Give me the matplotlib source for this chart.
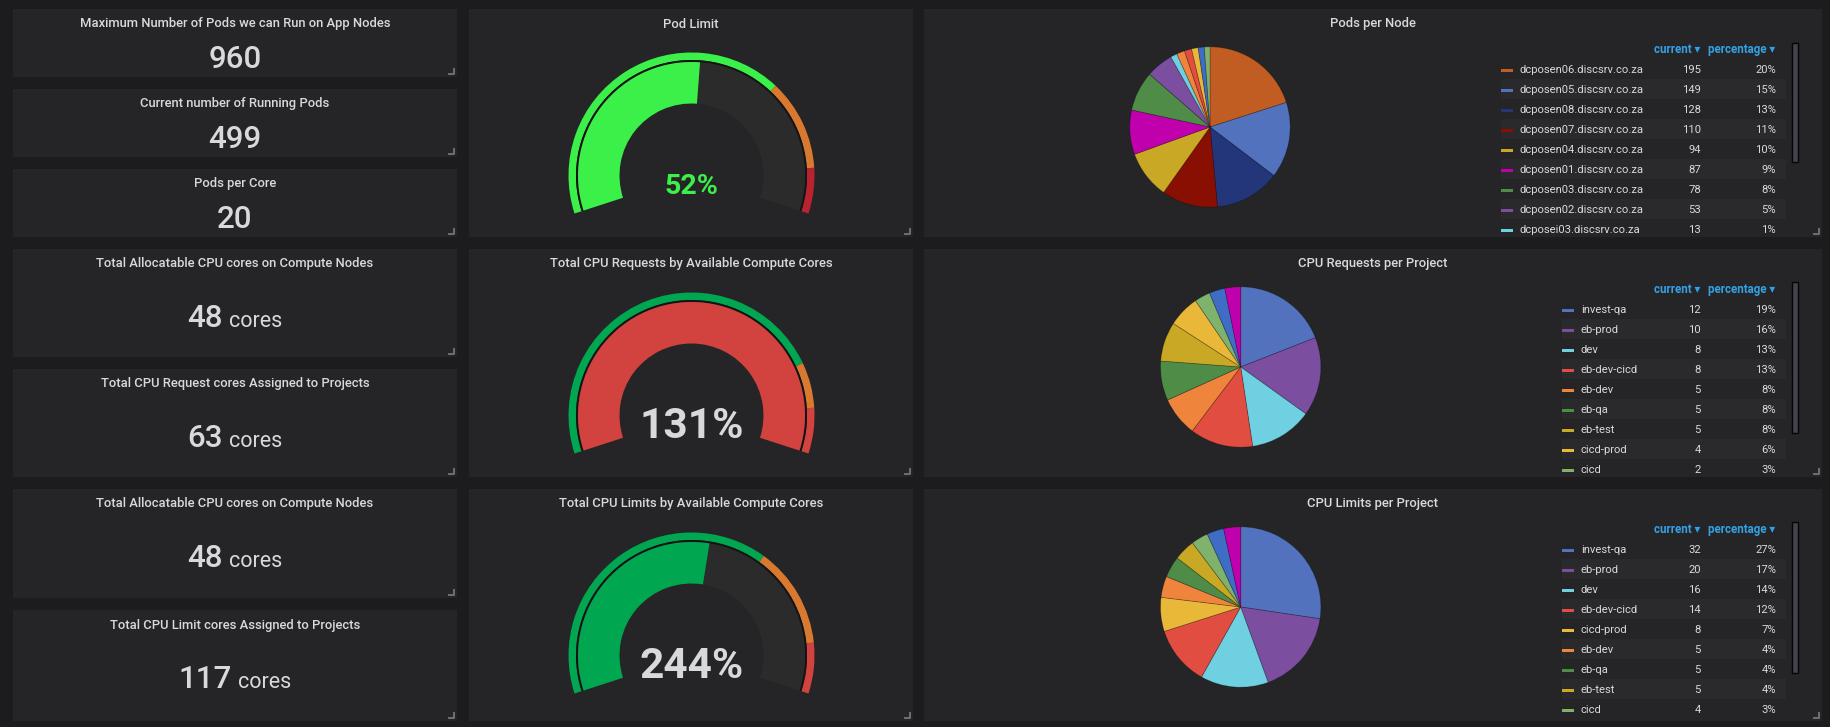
import matplotlib
matplotlib.use('Agg')
import matplotlib.pyplot as plt
from matplotlib.patches import Rectangle, Wedge

plt.rcParams['font.family'] = ['Roboto', 'DejaVu Sans']

# ---- single stat panels
stat_titles = ['Maximum Number of Pods we can Run on App Nodes',
               'Current number of Running Pods',
               'Pods per Core',
               'Total Allocatable CPU cores on Compute Nodes',
               'Total CPU Request cores Assigned to Projects',
               'Total Allocatable CPU cores on Compute Nodes',
               'Total CPU Limit cores Assigned to Projects']
stat_values = [960, 499, 20, 48, 63, 48, 117]
stat_units = ['', '', '', 'cores', 'cores', 'cores', 'cores']

# ---- gauges (percent)
gauge_titles = ['Pod Limit',
                'Total CPU Requests by Available Compute Cores',
                'Total CPU Limits by Available Compute Cores']
gauge_values = [52, 131, 244]
gauge_max = [100, 100, 450]
gauge_warn = [70, 80, 300]
gauge_crit = [90, 90, 400]

# ---- pies
pie_titles = ['Pods per Node', 'CPU Requests per Project', 'CPU Limits per Project']
node_names = ['dcposen06.discsrv.co.za', 'dcposen05.discsrv.co.za', 'dcposen08.discsrv.co.za',
              'dcposen07.discsrv.co.za', 'dcposen04.discsrv.co.za', 'dcposen01.discsrv.co.za',
              'dcposen03.discsrv.co.za', 'dcposen02.discsrv.co.za', 'dcposei03.discsrv.co.za',
              'dcposei01.discsrv.co.za', 'dcposei02.discsrv.co.za', 'dcposem01.discsrv.co.za',
              'dcposem02.discsrv.co.za', 'dcposem03.discsrv.co.za']
node_pods = [195, 149, 128, 110, 94, 87, 78, 53, 13, 16, 14, 13, 12, 11]
node_colors = ['#c15c22', '#5272be', '#24367a', '#890f02', '#c9a825', '#c000ad', '#4e8c48',
               '#7b4ea0', '#6ed0e0', '#ef843c', '#e24d42', '#eab839', '#3f6dc5', '#7eb26d']

req_projects = ['invest-qa', 'eb-prod', 'dev', 'eb-dev-cicd', 'eb-dev', 'eb-qa', 'eb-test',
                'cicd-prod', 'cicd', 'eb-uat', 'monitoring']
req_cores = [12, 10, 8, 8, 5, 5, 5, 4, 2, 2, 2]
req_colors = ['#5272be', '#7b4ea0', '#6ed0e0', '#e24d42', '#ef843c', '#4e8c48', '#c9a825',
              '#eab839', '#7eb26d', '#3f6dc5', '#c000ad']

lim_projects = ['invest-qa', 'eb-prod', 'dev', 'eb-dev-cicd', 'cicd-prod', 'eb-dev', 'eb-qa',
                'eb-test', 'cicd', 'eb-uat', 'monitoring']
lim_cores = [32, 20, 16, 14, 8, 5, 5, 5, 4, 4, 4]
lim_colors = ['#5272be', '#7b4ea0', '#6ed0e0', '#e24d42', '#eab839', '#ef843c', '#4e8c48',
              '#c9a825', '#7eb26d', '#3f6dc5', '#c000ad']

BG = '#1c1c1e'
PANEL = '#252528'
TXT = '#d8d9da'
HEAD = '#33a2e5'

W, H = 1831, 727
fig = plt.figure(figsize=(W / 100, H / 100), dpi=100)
fig.patch.set_facecolor(BG)
ax = fig.add_axes([0, 0, 1, 1])
ax.set_xlim(0, W)
ax.set_ylim(0, H)
ax.axis('off')
renderer = fig.canvas.get_renderer()


def t(x, y, s, **kw):
    return ax.text(x, H - y, s, **kw)


def panel(x0, y0, x1, y1, title):
    ax.add_patch(Rectangle((x0, H - y1), x1 - x0, y1 - y0, fc=PANEL, ec='none', zorder=0))
    ax.plot([x1 - 8, x1 - 3, x1 - 3], [H - (y1 - 3), H - (y1 - 3), H - (y1 - 8)],
            color='#707070', lw=1.4, zorder=1)
    t((x0 + x1) / 2, y0 + 18.5, title, color=TXT, fontsize=9.4, fontweight=500,
      ha='center', va='baseline')


# left column: stats
stat_boxes = [(9, 77), (89, 157), (169, 237), (249, 357), (369, 477), (489, 598), (610, 721)]
for (y0, y1), title, val, unit in zip(stat_boxes, stat_titles, stat_values, stat_units):
    panel(13, y0, 457, y1, title)
    base = y0 + 59 if y1 - y0 < 90 else y0 + 78
    cx = 235
    tn = t(cx, base, str(val), color=TXT, fontsize=22.5, fontweight='medium',
           ha='left', va='baseline')
    if unit:
        tu = t(cx, base, unit, color=TXT, fontsize=15.5, ha='left', va='baseline')
        wn = tn.get_window_extent(renderer).width
        wu = tu.get_window_extent(renderer).width
        left = cx - (wn + 6 + wu) / 2
        tn.set_x(left)
        tu.set_x(left + wn + 6)
    else:
        tn.set_ha('center')


# middle column: gauges
def fill_colour(v, warn, crit, cols):
    if v < warn:
        return cols[0]
    if v < crit:
        return cols[1]
    return cols[2]


gauge_boxes = [(9, 237), (249, 477), (489, 721)]
gauge_cols = [['#3cf04a', '#d9782f', '#b8232f'],
              ['#00a650', '#d9782f', '#d2423f'],
              ['#00a650', '#d9782f', '#d2423f']]
a0, span = 198.0, 216.0
for i, (y0, y1) in enumerate(gauge_boxes):
    panel(469, y0, 913, y1, gauge_titles[i])
    cx, cy = 691.5, y0 + 166.5
    vmax = gauge_max[i]
    cols = gauge_cols[i]

    def ang(v):
        return a0 - span * min(v, vmax) / vmax

    c = (cx, H - cy)
    ax.add_patch(Wedge(c, 123, ang(gauge_warn[i]), a0, width=7.5, fc=cols[0], ec='none'))
    ax.add_patch(Wedge(c, 123, ang(gauge_crit[i]), ang(gauge_warn[i]), width=7.5, fc=cols[1], ec='none'))
    ax.add_patch(Wedge(c, 123, a0 - span, ang(gauge_crit[i]), width=7.5, fc=cols[2], ec='none'))
    ax.add_patch(Wedge(c, 115.5, a0 - span, a0, width=2, fc='#141414', ec='none'))
    ax.add_patch(Wedge(c, 113.5, a0 - span, a0, width=41.5, fc='#2b2b2c', ec='none'))
    fc = fill_colour(gauge_values[i], gauge_warn[i], gauge_crit[i], cols)
    ax.add_patch(Wedge(c, 113.5, ang(gauge_values[i]), a0, width=41.5, fc=fc, ec='none'))
    if i == 0:
        t(cx, cy + 18, f'{gauge_values[i]}%', color=fc, fontsize=20.5, fontweight='bold',
          ha='center', va='baseline')
    else:
        t(cx, cy + 23, f'{gauge_values[i]}%', color=TXT, fontsize=30.5, fontweight='bold',
          ha='center', va='baseline')


# right column: pies + legends
def pie(cx, cy, vals, cols):
    r = 81
    pax = fig.add_axes([(cx - r) / W, (H - cy - r) / H, 2 * r / W, 2 * r / H])
    pax.pie(vals, colors=cols, startangle=90, counterclock=False,
            wedgeprops=dict(edgecolor=(0, 0, 0, 0.25), linewidth=0.6))
    pax.set_xlim(-1.01, 1.01)
    pax.set_ylim(-1.01, 1.01)
    pax.set_aspect('equal')
    pax.axis('off')


def legend(top, bottom, sw_x, name_x, names, vals, cols, sb_top, sb_bot):
    total = sum(vals)
    clip = Rectangle((0, H - (bottom - 2)), W, (bottom - 2) - (top + 28), transform=ax.transData)
    t(1700, top + 43.7, 'current \u25be', color=HEAD, fontsize=8.3, fontweight='bold',
      ha='right', va='baseline')
    t(1775, top + 43.7, 'percentage \u25be', color=HEAD, fontsize=8.3, fontweight='bold',
      ha='right', va='baseline')
    for k, (n, v, col) in enumerate(zip(names, vals, cols)):
        base = top + 64.3 + 20 * k
        if base - 12 > bottom - 2:
            break
        arts = []
        if k % 2:
            arts.append(ax.add_patch(Rectangle((sw_x, H - (base + 5.7)), 1786 - sw_x, 20,
                                               fc='#2a2a2d', ec='none', zorder=1)))
        arts.append(ax.add_patch(Rectangle((sw_x, H - (base - 1.8)), 12.5, 3,
                                           fc=col, ec='none', zorder=2)))
        arts.append(t(name_x, base, n, color=TXT, fontsize=8.1, ha='left', va='baseline'))
        arts.append(t(1701, base, str(v), color=TXT, fontsize=8.1, ha='right', va='baseline'))
        arts.append(t(1776, base, f'{round(100 * v / total)}%', color=TXT, fontsize=8.1,
                      ha='right', va='baseline'))
        for a in arts:
            a.set_clip_on(True)
            a.set_clip_path(clip)
    ax.add_patch(Rectangle((1792, H - sb_bot), 6, sb_bot - sb_top, fc='#44424f',
                           ec='#050505', lw=1, zorder=2))


pie_boxes = [(9, 237), (249, 477), (489, 721)]
pie_data = [(node_names, node_pods, node_colors, 1210, 1501, 1520, 34, 153),
            (req_projects, req_cores, req_colors, 1240.7, 1562, 1581, 33, 184),
            (lim_projects, lim_cores, lim_colors, 1240.7, 1562, 1581, 33, 184)]
for (y0, y1), title, (names, vals, cols, pcx, swx, nx, s0, s1) in zip(pie_boxes, pie_titles, pie_data):
    panel(924, y0, 1822, y1, title)
    pie(pcx, y0 + 118, vals, cols)
    legend(y0, y1, swx, nx, names, vals, cols, y0 + s0, y0 + s1)

fig.savefig('out.png', dpi=100, facecolor=BG)
